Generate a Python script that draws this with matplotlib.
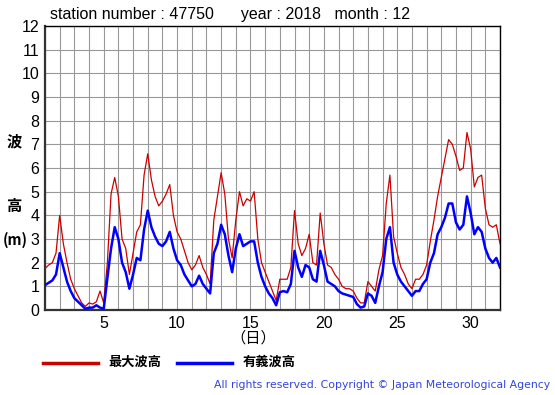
import matplotlib
matplotlib.use("Agg")
import matplotlib.pyplot as plt
from matplotlib.lines import Line2D
import numpy as np

plt.rcParams["font.family"] = ["Liberation Sans", "Noto Sans CJK JP", "DejaVu Sans"]

# 6-hourly readings, day 1.00 .. day 32.00
MAX_WAVE = [
    1.75, 1.9, 2.0, 2.4,
    4.0, 2.8, 2.0, 1.3,
    0.9, 0.6, 0.3, 0.15,
    0.3, 0.25, 0.35, 0.8,
    0.3, 2.0, 4.9, 5.6,
    4.8, 3.0, 2.6, 1.5,
    2.4, 3.3, 3.6, 5.7,
    6.6, 5.5, 4.8, 4.4,
    4.6, 4.9, 5.3, 4.0,
    3.3, 3.0, 2.5, 2.0,
    1.7, 1.9, 2.3, 1.8,
    1.5, 1.1, 3.8, 4.8,
    5.8, 4.9, 3.0, 2.2,
    3.8, 5.0, 4.4, 4.7,
    4.6, 5.0, 3.0, 2.0,
    1.6, 1.2, 0.8, 0.4,
    1.3, 1.3, 1.3, 1.8,
    4.2, 2.8, 2.3, 2.6,
    3.2, 2.0, 1.9, 4.1,
    2.8, 1.9, 1.8, 1.5,
    1.3, 1.0, 0.9, 0.9,
    0.8, 0.5, 0.3, 0.3,
    1.2, 1.0, 0.8, 1.7,
    2.3, 4.5, 5.7, 3.1,
    2.4, 1.8, 1.5, 1.1,
    0.9, 1.3, 1.3, 1.5,
    1.9, 2.9, 3.8, 4.8,
    5.6, 6.4, 7.2, 7.0,
    6.5, 5.9, 6.0, 7.5,
    6.8, 5.2, 5.6, 5.7,
    4.3, 3.6, 3.5, 3.6,
    2.8,
]

SIG_WAVE = [
    1.05, 1.15, 1.25, 1.5,
    2.4, 1.8, 1.2, 0.8,
    0.5, 0.35, 0.2, 0.05,
    0.1, 0.1, 0.2, 0.1,
    0.05, 1.35, 2.6, 3.5,
    3.0, 2.0, 1.6, 0.9,
    1.5, 2.2, 2.1, 3.4,
    4.2, 3.5, 3.1, 2.8,
    2.7, 2.9, 3.3, 2.6,
    2.1, 1.9, 1.5, 1.25,
    1.0, 1.1, 1.45, 1.1,
    0.9, 0.7, 2.4, 2.8,
    3.6, 3.2, 2.3, 1.6,
    2.6, 3.2, 2.7, 2.8,
    2.9, 2.9, 2.0, 1.4,
    1.0, 0.7, 0.5, 0.2,
    0.75, 0.8, 0.75, 1.1,
    2.5, 1.8, 1.4, 1.9,
    1.8, 1.3, 1.2, 2.5,
    1.9, 1.2, 1.1, 1.0,
    0.8, 0.7, 0.65, 0.6,
    0.55, 0.25, 0.1, 0.15,
    0.7, 0.6, 0.3, 1.0,
    1.6, 3.0, 3.5, 2.0,
    1.5, 1.2, 1.0, 0.8,
    0.6, 0.8, 0.8, 1.1,
    1.3, 2.0, 2.4, 3.2,
    3.5, 3.9, 4.5, 4.5,
    3.7, 3.4, 3.6, 4.8,
    4.1, 3.2, 3.5, 3.3,
    2.6, 2.2, 2.0, 2.2,
    1.8,
]

X_TICKS = [5, 10, 15, 20, 25, 30]
Y_TICKS = list(range(0, 13))

days = 1 + np.arange(len(MAX_WAVE)) * 0.25

W, H = 555, 395
fig = plt.figure(figsize=(W / 100, H / 100), dpi=100)
fig.patch.set_facecolor("white")
ax = fig.add_axes([45 / W, 1 - 310 / H, 455 / W, 284 / H])

ax.plot(days, MAX_WAVE, color="#cc0000", lw=0.9, zorder=3)
ax.plot(days, SIG_WAVE, color="#0000ff", lw=1.8, zorder=4)

ax.set_xlim(1, 32)
ax.set_ylim(0, 12)
ax.set_xticks(np.arange(1, 33), minor=True)
ax.set_xticks(X_TICKS)
ax.set_yticks(Y_TICKS)
ax.grid(True, which="both", color="#999999", lw=0.8, zorder=0)
ax.tick_params(which="both", length=0, labelsize=11.5, pad=4)

for s in ["left", "bottom"]:
    ax.spines[s].set_linewidth(1.6)
    ax.spines[s].set_color("#333333")
for s in ["top", "right"]:
    ax.spines[s].set_linewidth(1.0)
    ax.spines[s].set_color("black")

fig.text(50 / W, 1 - 15 / H, "station number : 47750      year : 2018   month : 12",
         fontsize=11.5, va="center", ha="left")

fig.text(14 / W, 1 - 142 / H, "波", fontsize=11, ha="center", va="center", weight="bold")
fig.text(14 / W, 1 - 207 / H, "高", fontsize=11, ha="center", va="center", weight="bold")
fig.text(15 / W, 1 - 240 / H, "(m)", fontsize=10.5, ha="center", va="center",
         weight="bold", family="Noto Sans CJK JP")
fig.text(253 / W, 1 - 338 / H, "（日）", fontsize=11, ha="center", va="center")

fig.add_artist(Line2D([43 / W, 98 / W], [1 - 363 / H] * 2, color="#cc0000", lw=2.5))
fig.text(108 / W, 1 - 363 / H, "最大波高", fontsize=9.5, ha="left", va="center", weight="bold")
fig.add_artist(Line2D([177 / W, 232 / W], [1 - 363 / H] * 2, color="#0000ff", lw=2.5))
fig.text(243 / W, 1 - 363 / H, "有義波高", fontsize=9.5, ha="left", va="center", weight="bold")

fig.text(550 / W, 1 - 385 / H, "All rights reserved. Copyright © Japan Meteorological Agency",
         fontsize=7.8, ha="right", va="center", color="#3344dd", family="DejaVu Sans")

fig.savefig("out.png", dpi=100)
